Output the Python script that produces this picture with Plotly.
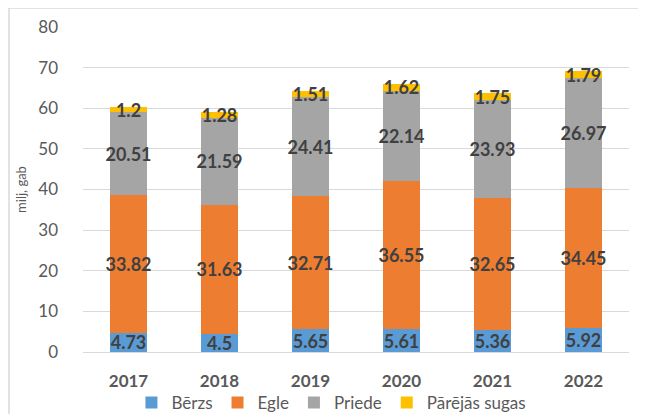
import plotly.graph_objects as go

years = ["2017", "2018", "2019", "2020", "2021", "2022"]
berzs = [4.73, 4.5, 5.65, 5.61, 5.36, 5.92]
egle = [33.82, 31.63, 32.71, 36.55, 32.65, 34.45]
priede = [20.51, 21.59, 24.41, 22.14, 23.93, 26.97]
parejas = [1.2, 1.28, 1.51, 1.62, 1.75, 1.79]

series = [
    ("Bērzs", berzs, "#5B9BD5"),
    ("Egle", egle, "#ED7D31"),
    ("Priede", priede, "#A5A5A5"),
    ("Pārējās sugas", parejas, "#FFC000"),
]

FONT = "Lato, 'Open Sans', sans-serif"

fig = go.Figure()
for name, vals, col in series:
    fig.add_trace(go.Bar(
        name=name, x=years, y=vals,
        marker=dict(color=col, line=dict(width=0)),
        text=[f"{v:g}" for v in vals],
        textposition="inside", insidetextanchor="middle",
        textangle=0,
        constraintext="none", cliponaxis=False,
        textfont=dict(family=FONT, size=18, color="#404040", weight="bold"),
        hoverinfo="skip",
    ))

# page body adds an 8px offset, so margins are compensated
fig.update_layout(
    width=646, height=414,
    barmode="stack", bargap=0.6,
    margin=dict(l=75, r=25, t=19, b=70, autoexpand=False),
    paper_bgcolor="white", plot_bgcolor="white",
    font=dict(family=FONT, color="#595959"),
    showlegend=True,
    legend=dict(orientation="h", x=0.455, xanchor="center", yref="container",
                y=0.046, yanchor="middle",
                font=dict(size=17, color="#595959"), traceorder="normal",
                itemwidth=30, tracegroupgap=0, bgcolor="rgba(0,0,0,0)"),
    xaxis=dict(showgrid=False, showline=True, linecolor="#d9d9d9", linewidth=1,
               ticks="", tickfont=dict(size=17, color="#595959", weight="bold"),
               ticklabelstandoff=14),
    yaxis=dict(range=[0, 80], dtick=10, showgrid=True, gridcolor="#d9d9d9", gridwidth=1,
               zeroline=False, showline=False, ticks="",
               tickfont=dict(size=17, color="#595959"), ticklabelstandoff=24,
               title=dict(text="milj, gab", font=dict(size=13, color="#595959"), standoff=8)),
    shapes=[dict(type="rect", xref="paper", yref="paper",
                 x0=(1 - 75) / 546, x1=(660 - 75) / 546,
                 y0=-0.3, y1=(344 - 0) / 325,
                 line=dict(color="#d9d9d9", width=1.5), fillcolor="rgba(0,0,0,0)", layer="below")],
)

fig.write_html("out.html")
